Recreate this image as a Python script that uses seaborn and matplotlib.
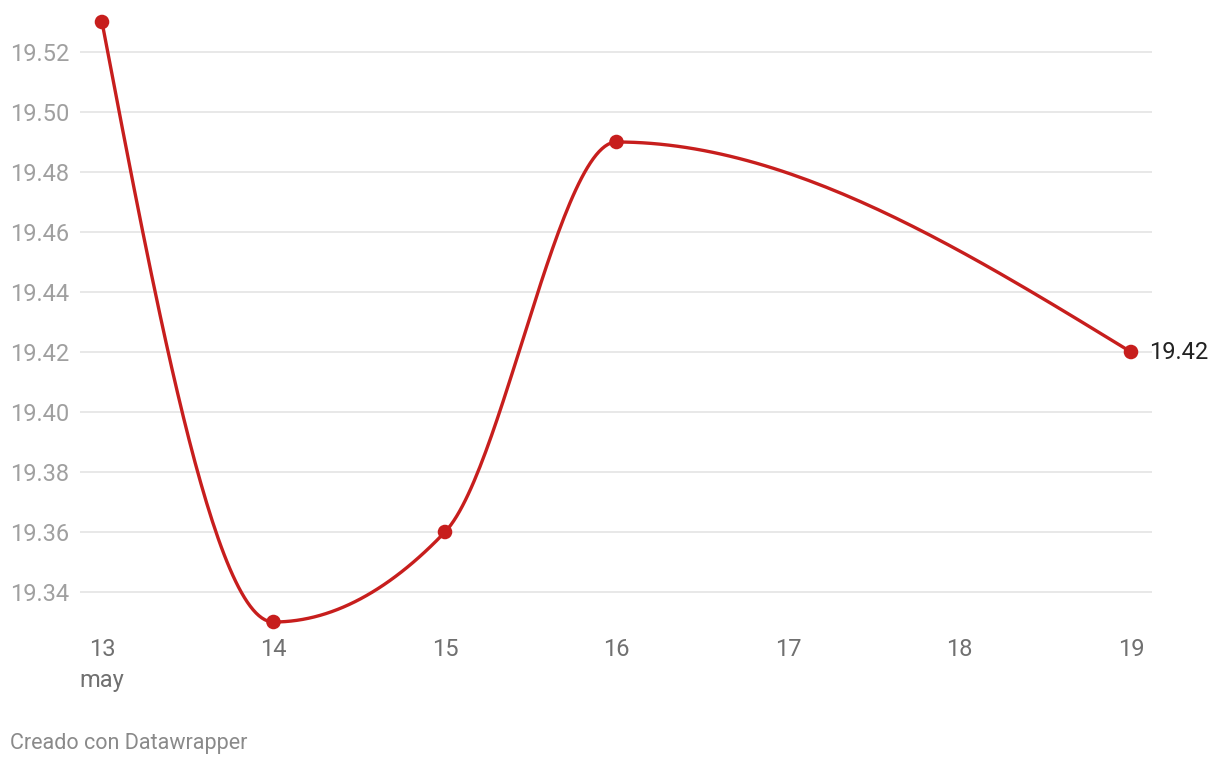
import numpy as np
import pandas as pd
import matplotlib
matplotlib.use("Agg")
import matplotlib.pyplot as plt
import seaborn as sns

# Data
days = [13, 14, 15, 16, 19]
values = [19.53, 19.33, 19.36, 19.49, 19.42]
x_ticks = [13, 14, 15, 16, 17, 18, 19]
x_tick_labels = ["13\nmay", "14", "15", "16", "17", "18", "19"]
y_ticks = [19.34, 19.36, 19.38, 19.40, 19.42, 19.44, 19.46, 19.48, 19.50, 19.52]
y_tick_labels = [f"{v:.2f}" for v in y_ticks]
credit = "Creado con Datawrapper"

RED = "#c71e1d"

sns.set_theme(style="white")
plt.rcParams['font.family'] = ['Roboto', 'DejaVu Sans']


def monotone_x_path(xs, ys, n=60):
    """Render d3 curveMonotoneX through the given points."""
    xs = np.asarray(xs, float)
    ys = np.asarray(ys, float)
    m = len(xs)
    h = np.diff(xs)
    s = np.diff(ys) / h
    t = np.zeros(m)
    for i in range(1, m - 1):
        h0, h1 = h[i - 1], h[i]
        s0, s1 = s[i - 1], s[i]
        p = (s0 * h1 + s1 * h0) / (h0 + h1)
        t[i] = (np.sign(s0) + np.sign(s1)) * min(abs(s0), abs(s1), 0.5 * abs(p))
    t[0] = (3 * s[0] - t[1]) / 2
    t[-1] = (3 * s[-1] - t[-2]) / 2
    px, py = [], []
    u = np.linspace(0, 1, n)
    for i in range(m - 1):
        x0, x1 = xs[i], xs[i + 1]
        y0, y1 = ys[i], ys[i + 1]
        dx = (x1 - x0) / 3
        c = [(x0, y0), (x0 + dx, y0 + dx * t[i]), (x1 - dx, y1 - dx * t[i + 1]), (x1, y1)]
        b = [(1 - u) ** 3, 3 * (1 - u) ** 2 * u, 3 * (1 - u) * u ** 2, u ** 3]
        bx = sum(bi * ci[0] for bi, ci in zip(b, c))
        by = sum(bi * ci[1] for bi, ci in zip(b, c))
        if i > 0:
            bx, by = bx[1:], by[1:]
        px.extend(bx)
        py.extend(by)
    return np.array(px), np.array(py)


cx, cy = monotone_x_path(days, values)
curve = pd.DataFrame({"x": cx, "y": cy})
pts = pd.DataFrame({"x": days, "y": values})

fig = plt.figure(figsize=(12.2, 7.68), dpi=100)
ax = fig.add_axes([80 / 1220, (768 - 630) / 768, (1152 - 80) / 1220, 620 / 768])

sns.lineplot(data=curve, x="x", y="y", sort=False, estimator=None, color=RED,
             linewidth=2.4, ax=ax, zorder=3)
sns.scatterplot(data=pts, x="x", y="y", color=RED, s=110, edgecolor="none",
                ax=ax, zorder=4)

ax.set_xlim(13 - 22 / 171.5, 19 + 21 / 171.5)
ax.set_ylim(19.33 - 8 / 3000, 19.53 + 12 / 3000)

ax.set_yticks(y_ticks)
ax.set_yticklabels(y_tick_labels)
ax.set_xticks(x_ticks)
ax.set_xticklabels(x_tick_labels, linespacing=1.45)
for lab in ax.get_yticklabels():
    lab.set_horizontalalignment("left")
ax.tick_params(axis="y", length=0, pad=70 * 0.72, labelsize=17, labelcolor="#a0a0a0")
ax.tick_params(axis="x", length=0, pad=6, labelsize=17, labelcolor="#707070")
for lab in ax.get_xticklabels():
    lab.set_verticalalignment("top")
    lab.set_multialignment("center")

ax.yaxis.grid(True, color="#e2e2e2", linewidth=1.1)
ax.xaxis.grid(False)
for sp in ax.spines.values():
    sp.set_visible(False)
ax.set_xlabel("")
ax.set_ylabel("")

ax.annotate(f"{values[-1]:.2f}", xy=(days[-1], values[-1]), xytext=(13, 0),
            textcoords="offset points", ha="left", va="center", fontsize=17,
            color="#222222", zorder=5)

fig.text(10 / 1220, 1 - 744 / 768, credit, ha="left", va="center",
         fontsize=15.5, color="#8a8a8a")

fig.savefig("out.png", dpi=100)
